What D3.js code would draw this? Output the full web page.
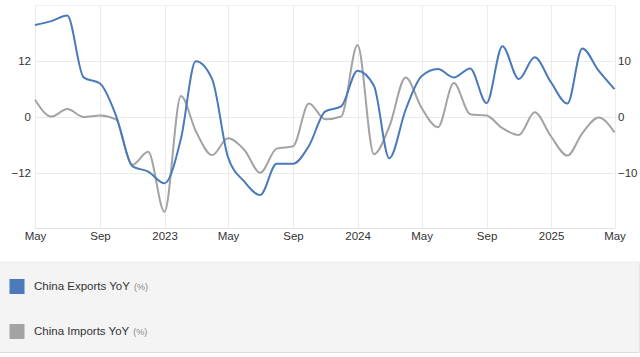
<!DOCTYPE html>
<html>
<head>
<meta charset="utf-8">
<script src="https://cdn.jsdelivr.net/npm/d3@7"></script>
<style>
html,body{margin:0;padding:0;background:#fff;}
svg{display:block;font-family:"Liberation Sans",Arial,sans-serif;}
</style>
</head>
<body>
<svg id="chart" width="640" height="357"></svg>
<script>
const months = ["2022-05","2022-06","2022-07","2022-08","2022-09","2022-10","2022-11","2022-12",
"2023-01","2023-02","2023-03","2023-04","2023-05","2023-06","2023-07","2023-08","2023-09","2023-10","2023-11","2023-12",
"2024-01","2024-02","2024-03","2024-04","2024-05","2024-06","2024-07","2024-08","2024-09","2024-10","2024-11","2024-12",
"2025-01","2025-02","2025-03","2025-04","2025-05"];
const exportsYoY = [16.5,17.2,18.2,7.1,6.0,0.3,-8.8,-9.8,
-11.9,-3.9,10.0,6.8,-7.2,-11.6,-14.0,-8.4,-8.4,-5.2,1.0,1.9,
8.3,5.6,-7.4,1.3,7.3,8.6,7.1,8.7,2.5,12.7,6.8,10.7,
6.2,2.4,12.3,8.3,5.0];
const importsYoY = [3.7,0.1,1.7,0.0,0.3,-0.5,-10.3,-7.5,
-20.4,4.5,-3.0,-8.2,-4.6,-7.1,-12.0,-6.8,-6.3,2.9,-0.5,0.1,
15.5,-8.0,-2.1,8.5,2.0,-2.2,7.3,0.6,0.3,-2.4,-3.9,1.0,
-4.2,-8.3,-3.5,-0.1,-3.3];
const xTicks = ["2022-05","2022-09","2023-01","2023-05","2023-09","2024-01","2024-05","2024-09","2025-01","2025-05"];
const leftTicks = [-12,0,12];
const rightTicks = [-10,0,10];
const seriesNames = ["China Exports YoY","China Imports YoY"];
const unitLabel = "(%)";

const parse = d3.timeParse("%Y-%m");
const dates = months.map(parse);
const svg = d3.select("#chart");

const x = d3.scaleTime().domain([dates[0], dates[dates.length-1]]).range([35, 614.5]);
const yL = d3.scaleLinear().domain([-24,24]).range([228.5,5.5]);
const yR = d3.scaleLinear().domain([-20,20]).range([228.5,5.5]);

// plot frame / grid
const g = svg.append("g");
g.append("line").attr("x1",35).attr("x2",614.5).attr("y1",5.5).attr("y2",5.5).attr("stroke","#f0f0f0");
leftTicks.forEach(t=>{
  g.append("line").attr("x1",35).attr("x2",614.5).attr("y1",Math.round(yL(t))+0.5).attr("y2",Math.round(yL(t))+0.5)
   .attr("stroke","#ebebeb").attr("stroke-width",1);
});
xTicks.map(parse).forEach(d=>{
  const xx = Math.round(x(d))+0.5;
  g.append("line").attr("x1",xx).attr("x2",xx).attr("y1",5.5).attr("y2",228.5).attr("stroke","#ebebeb");
});
g.append("line").attr("x1",35).attr("x2",614.5).attr("y1",228.5).attr("y2",228.5).attr("stroke","#e3e3e3");

// axes
const fmt = d => d.getMonth()===0 ? d3.timeFormat("%Y")(d) : d3.timeFormat("%b")(d);
const xAxis = d3.axisBottom(x).tickValues(xTicks.map(parse)).tickFormat(fmt).tickSize(0).tickPadding(0);
svg.append("g").attr("transform","translate(0,236)").call(xAxis)
  .call(a=>a.select(".domain").remove())
  .call(a=>a.selectAll("text").attr("fill","#333").attr("font-size","11.5px").attr("dy","0.35em").attr("y",0));

const lAxis = d3.axisLeft(yL).tickValues(leftTicks).tickSize(0).tickPadding(0);
svg.append("g").attr("transform","translate(31,0)").call(lAxis)
  .call(a=>a.select(".domain").remove())
  .call(a=>a.selectAll("text").attr("fill","#333").attr("font-size","11.5px"));

const rAxis = d3.axisRight(yR).tickValues(rightTicks).tickSize(0).tickPadding(0);
svg.append("g").attr("transform","translate(618,0)").call(rAxis)
  .call(a=>a.select(".domain").remove())
  .call(a=>a.selectAll("text").attr("fill","#333").attr("font-size","11.5px"));

// lines
const lineL = d3.line().x((d,i)=>x(dates[i])).y(d=>yL(d)).curve(d3.curveMonotoneX);
const lineR = d3.line().x((d,i)=>x(dates[i])).y(d=>yR(d)).curve(d3.curveMonotoneX);
svg.append("path").datum(importsYoY).attr("d",lineL).attr("fill","none").attr("stroke","#a3a3a3").attr("stroke-width",2);
svg.append("path").datum(exportsYoY).attr("d",lineR).attr("fill","none").attr("stroke","#4a7ab9").attr("stroke-width",2);

// legend
const leg = svg.append("g");
leg.append("rect").attr("x",0).attr("y",262).attr("width",639).attr("height",90).attr("fill","#f4f4f4");
leg.append("line").attr("x1",0).attr("x2",639).attr("y1",262).attr("y2",262).attr("stroke","#ececec");
leg.append("line").attr("x1",0).attr("x2",639).attr("y1",352.5).attr("y2",352.5).attr("stroke","#dcdcdc");
leg.append("line").attr("x1",639.5).attr("x2",639.5).attr("y1",262).attr("y2",352.5).attr("stroke","#e6e6e6");
const colors = ["#4a7ab9","#a3a3a3"];
seriesNames.forEach((name,i)=>{
  const cy = 286 + i*45;
  leg.append("rect").attr("x",9.5).attr("y",cy-7).attr("width",15).attr("height",15).attr("fill",colors[i]);
  const t = leg.append("text").attr("x",34).attr("y",cy).attr("dy","0.35em").attr("font-size","11.5px").attr("fill","#333");
  t.append("tspan").text(name);
  t.append("tspan").attr("font-size","9px").attr("fill","#888").attr("dx","4").text(unitLabel);
});
</script>
</body>
</html>
